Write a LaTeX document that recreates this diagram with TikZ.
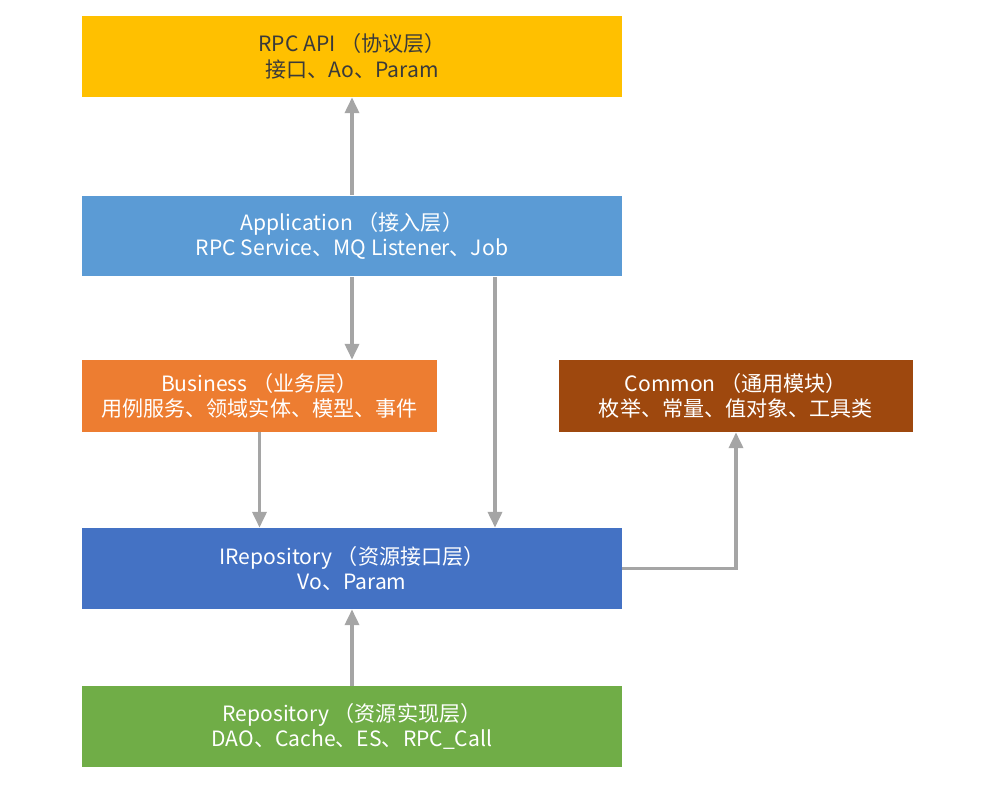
\documentclass[tikz,border=0pt]{standalone}
\usepackage{fontspec}
\setmainfont{Noto Sans CJK SC}
\usetikzlibrary{arrows.meta}
\definecolor{apiyellow}{HTML}{FFC000}
\definecolor{appblue}{HTML}{5B9BD5}
\definecolor{busorange}{HTML}{ED7D31}
\definecolor{combrown}{HTML}{9E480E}
\definecolor{irepoblue}{HTML}{4472C4}
\definecolor{repogreen}{HTML}{70AD47}
\definecolor{linkgray}{HTML}{A5A5A5}
\definecolor{darktext}{HTML}{3A3A3A}
\begin{document}
\begin{tikzpicture}[x=0.02cm,y=-0.02cm,
    layer/.style={inner sep=0pt,align=center,text=white,minimum height=1.62cm,
      font=\fontsize{12}{14.5}\selectfont},
    wide layer/.style={layer,minimum width=10.8cm},
    half layer/.style={layer,minimum width=7.1cm,minimum height=1.44cm},
    link/.style={linkgray,line width=1.9pt,-{Triangle[width=8pt,length=9pt]}}]
  \useasboundingbox (0,0) rectangle (997,791); %picture frame
  \node[wide layer,fill=apiyellow,text=darktext] (api) at (352,56.5) {RPC API （协议层）\\接口、Ao、Param};
  \node[wide layer,fill=appblue] (app) at (352,236) {Application （接入层）\\RPC Service、MQ Listener、Job};
  \node[half layer,fill=busorange] (bus) at (259.5,396) {Business （业务层）\\用例服务、领域实体、模型、事件};
  \node[half layer,fill=combrown] (com) at (736,396) {Common （通用模块）\\枚举、常量、值对象、工具类};
  \node[wide layer,fill=irepoblue] (irepo) at (352,568.5) {IRepository （资源接口层）\\Vo、Param};
  \node[wide layer,fill=repogreen] (repo) at (352,726.5) {Repository （资源实现层）\\DAO、Cache、ES、RPC\_Call};
  \coordinate (jobtap) at (495,277); %second way down from application
  \draw[link] (app) -- (api); %up to api
  \draw[link] (app) -- (app.south |- bus.north); %down to business
  \draw[link] (bus) -- (bus.south |- irepo.north); %business to interfaces
  \draw[link] (jobtap) -- (jobtap |- irepo.north); %application to interfaces
  \draw[link] (irepo.east) -| (com.south); %interfaces use common
  \draw[link] (repo) -- (irepo); %implementation up
\end{tikzpicture}
\end{document}
